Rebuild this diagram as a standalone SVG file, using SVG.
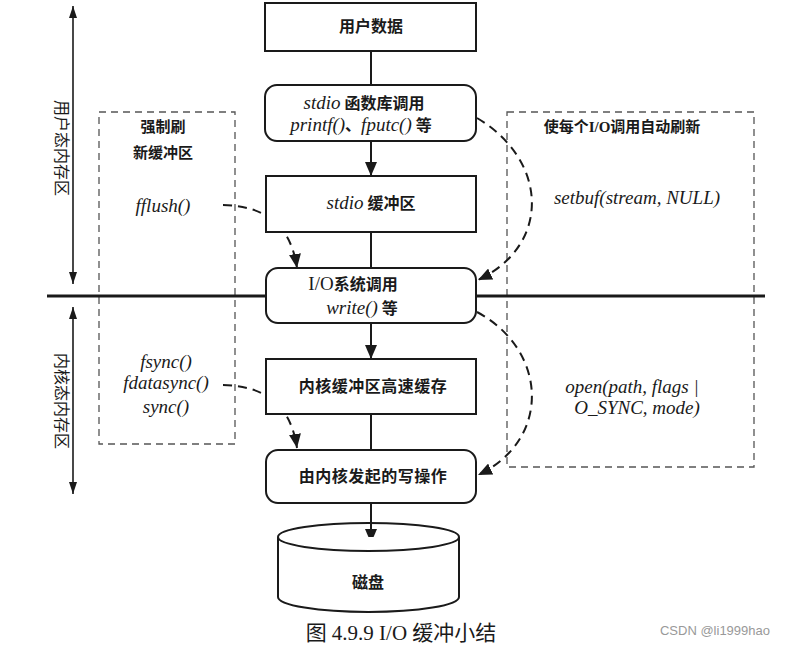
<svg xmlns="http://www.w3.org/2000/svg" width="802" height="645" viewBox="0 0 802 645">
<style>
.box{fill:#fff;stroke:#1a1a1a;stroke-width:2}
.dbox{fill:none;stroke:#555;stroke-width:1.3;stroke-dasharray:7,5}
.t{font-family:"Liberation Serif","Noto Sans CJK SC",serif;font-size:16px;fill:#1a1a1a;text-anchor:middle;font-weight:bold}
.i{font-family:"Liberation Serif","Noto Sans CJK SC",serif;font-size:19px;font-style:italic;fill:#1a1a1a;text-anchor:middle}
.it{font-style:italic;font-weight:normal;font-size:19px}
.ln{stroke:#1a1a1a;stroke-width:2;fill:none}
.dc{stroke:#1a1a1a;stroke-width:2;fill:none;stroke-dasharray:9,6}
</style>
<defs>
<marker id="ah" markerUnits="userSpaceOnUse" markerWidth="14" markerHeight="12" refX="14" refY="6" orient="auto-start-reverse"><path d="M0,0 L14,6 L0,12 z" fill="#1a1a1a"/></marker>
<marker id="as" markerUnits="userSpaceOnUse" markerWidth="12" markerHeight="8" refX="12" refY="4" orient="auto-start-reverse"><path d="M0,0 L12,4 L0,8 z" fill="#1a1a1a"/></marker>
</defs>
<rect width="802" height="645" fill="#fff"/>
<g id="dashed-boxes">
<rect class="dbox" x="99" y="112" width="136" height="332"/>
<rect class="dbox" x="507" y="112" width="247" height="355"/>
</g>
<g id="connectors">
<line class="ln" x1="47" y1="296" x2="765" y2="296" style="stroke-width:3"/>
<line class="ln" x1="73" y1="284" x2="73" y2="6" style="stroke-width:1.6" marker-start="url(#as)" marker-end="url(#as)"/>
<line class="ln" x1="73" y1="307" x2="73" y2="494" style="stroke-width:1.6" marker-start="url(#as)" marker-end="url(#as)"/>
<line class="ln" x1="371" y1="51" x2="371" y2="85"/>
<line class="ln" x1="371" y1="141" x2="371" y2="176" marker-end="url(#ah)"/>
<line class="ln" x1="371" y1="232" x2="371" y2="268"/>
<line class="ln" x1="371" y1="323" x2="371" y2="359" marker-end="url(#ah)"/>
<line class="ln" x1="371" y1="414" x2="371" y2="450"/>
<line class="ln" x1="371" y1="503" x2="371" y2="543" marker-end="url(#ah)"/>
<path class="dc" d="M223,205 C260,206 290,220 297,268" marker-end="url(#ah)"/>
<path class="dc" d="M223,385 C260,386 290,400 297,448" marker-end="url(#ah)"/>
<path class="dc" d="M477,118 C548,160 552,245 478,280" marker-end="url(#ah)"/>
<path class="dc" d="M477,312 C548,350 552,440 478,475" marker-end="url(#ah)"/>
</g>
<g id="n-userdata">
<rect class="box" x="265" y="3" width="211" height="48"/>
<text class="t" x="371" y="32">用户数据</text>
</g>
<g id="n-stdio-lib">
<rect class="box" x="265" y="85" width="211" height="56" rx="12"/>
<text class="t" x="364" y="109"><tspan class="it">stdio</tspan> 函数库调用</text>
<text class="t" x="361" y="131"><tspan class="it">printf()</tspan>、<tspan class="it">fputc()</tspan> 等</text>
</g>
<g id="n-stdio-buf">
<rect class="box" x="266" y="176" width="210" height="56"/>
<text class="t" x="371" y="209"><tspan class="it">stdio</tspan> 缓冲区</text>
</g>
<g id="n-syscall">
<rect class="box" x="266" y="268" width="210" height="55" rx="12"/>
<text class="t" x="353" y="290" style="font-size:16px"><tspan style="font-weight:normal;font-size:19px">I/O</tspan>系统调用</text>
<text class="t" x="362" y="314"><tspan class="it">write()</tspan> 等</text>
</g>
<g id="n-kernel-buf">
<rect class="box" x="266" y="359" width="210" height="55"/>
<text class="t" x="373" y="392" style="letter-spacing:0.5px">内核缓冲区高速缓存</text>
</g>
<g id="n-kernel-write">
<rect class="box" x="266" y="450" width="210" height="53" rx="12"/>
<text class="t" x="373" y="482" style="letter-spacing:0.5px">由内核发起的写操作</text>
</g>
<g id="n-disk">
<path class="box" d="M278,537 L278,597 A90.5,15 0 0 0 459,597 L459,537"/>
<ellipse class="box" cx="368.5" cy="537" rx="90.5" ry="14" style="fill:none"/>
<text class="t" x="368" y="588">磁盘</text>
</g>
<g id="labels">
<text class="t" transform="translate(56,148) rotate(90)" style="font-weight:normal">用户态内存区</text>
<text class="t" transform="translate(56,401) rotate(90)" style="font-weight:normal">内核态内存区</text>
<text class="t" x="163" y="132" style="font-size:15px">强制刷</text>
<text class="t" x="163" y="158" style="font-size:15px">新缓冲区</text>
<text class="i" x="163" y="212">fflush()</text>
<text class="i" x="166" y="368">fsync()</text>
<text class="i" x="166" y="389">fdatasync()</text>
<text class="i" x="166" y="413">sync()</text>
<text class="t" x="622" y="132" style="font-size:15px">使每个I/O调用自动刷新</text>
<text class="i" x="637" y="204">setbuf(stream, NULL)</text>
<text class="i" x="632" y="393">open(path, flags |</text>
<text class="i" x="637" y="414">O_SYNC, mode)</text>
<text x="401" y="640" style="font-family:'Liberation Serif','Noto Sans CJK SC',serif;font-size:21px;fill:#1a1a1a;text-anchor:middle">图  4.9.9 I/O 缓冲小结</text>
<text x="770" y="635" style="font-family:'Liberation Sans',sans-serif;font-size:13px;fill:#999;text-anchor:end">CSDN @li1999hao</text>
</g>
</svg>
